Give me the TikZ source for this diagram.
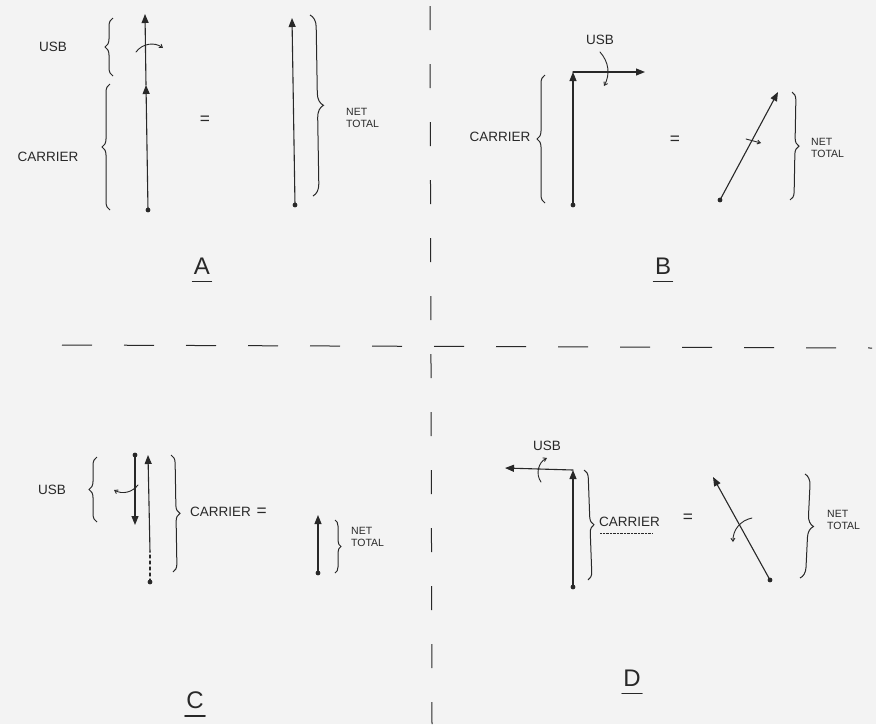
\documentclass[tikz,border=0pt]{standalone}
\usepackage{fontspec}
\setmainfont{Liberation Sans}
\usetikzlibrary{arrows.meta,calc,positioning,decorations.pathreplacing}
\definecolor{paper}{RGB}{243,243,243}
\definecolor{ink}{RGB}{40,40,40}
\tikzset{
  sketch/.style={draw=ink, line width=1.1pt, line cap=round},
  phasor/.style={sketch, -{Triangle[length=9pt,width=7pt]}},
  turn/.style={draw=ink, line width=0.9pt, line cap=round, -{Straight Barb[length=3pt,width=4pt]}},
  brc/.style={draw=ink, line width=1pt, decorate, decoration={brace, amplitude=8pt}},
  hand/.style={font=\fontsize{13.5}{14}\selectfont, text=ink, inner sep=1pt, align=left},
  handThin/.style={font=\fontsize{10.5}{11.5}\selectfont, text=ink, inner sep=1pt, align=left},
  eqsign/.style={font=\LARGE, text=ink},
  tag/.style={font=\fontsize{24}{24}\selectfont, text=ink},
  vdivider/.style={draw=ink, line width=1pt, dash pattern=on 24pt off 34pt},
  hdivider/.style={draw=ink, line width=1pt, dash pattern=on 30pt off 32pt},
}
\newcommand{\tipdot}[1]{\fill[ink] (#1) circle (2.4pt);}

\begin{document}
\begin{tikzpicture}[x=1pt, y=-1pt]

  \fill[paper] (0,0) rectangle (876,724);
  \useasboundingbox (0,0) rectangle (876,724);

  % dividers
  \coordinate (divN) at (430,6);
  \coordinate (divS) at (432,724);
  \coordinate (divW) at (62,345);
  \coordinate (divE) at (872,348);
  \draw[vdivider] (divN) -- (divS);
  \draw[hdivider] (divW) -- (divE);

  % A
  \coordinate (aO) at (148,210);
  \coordinate (aC) at (146,85);
  \coordinate (aU) at (145,14);
  \draw[phasor] (aO) -- (aC);
  \draw[phasor] (aC) -- (aU);
  \tipdot{aO}
  \coordinate (aR1) at (136,52);
  \coordinate (aR2) at (163,48);
  \draw[turn] (aR1) to[bend left=45] (aR2);
  \draw[brc] (113,76) -- (113,18);
  \node[hand] (usbA) at (53,47) {USB};
  \draw[brc] (110,210) -- (110,84);
  \node[hand] (carA) at (48,157) {CARRIER};
  \node[eqsign] (eqA) at (205,120) {=};
  \coordinate (aNo) at (295,205);
  \coordinate (aNt) at (292,18);
  \draw[phasor] (aNo) -- (aNt);
  \tipdot{aNo}
  \draw[brc, decoration={amplitude=12pt}] (310,15) -- (313,196);
  \node[handThin, anchor=west] (netA) at (345,118) {NET\\TOTAL};
  \node[tag] (tagA) at (202,266) {A};
  \draw[sketch] ($(tagA.south west)+(2,4)$) -- ($(tagA.south east)+(-2,4)$);

  % B
  \coordinate (bO) at (573,205);
  \coordinate (bC) at (573,72);
  \coordinate (bU) at (645,72);
  \draw[phasor] (bO) -- (bC);
  \draw[phasor] (bC) -- (bU);
  \tipdot{bO}
  \coordinate (bR1) at (600,52);
  \coordinate (bR2) at (604,86);
  \draw[turn] (bR1) to[bend left=35] (bR2);
  \node[hand, above=6pt of bR1] (usbB) {USB};
  \draw[brc] (545,203) -- (545,75);
  \node[hand] (carB) at (500,137) {CARRIER};
  \node[eqsign] (eqB) at (675,140) {=};
  \coordinate (bNo) at (720,200);
  \coordinate (bNt) at (778,92);
  \draw[phasor] (bNo) -- (bNt);
  \tipdot{bNo}
  \coordinate (bM1) at (746,139);
  \coordinate (bM2) at (761,143);
  \draw[turn] (bM1) -- (bM2);
  \draw[brc] (792,92) -- (790,200);
  \node[handThin, anchor=west] (netB) at (810,148) {NET\\TOTAL};
  \node[tag] (tagB) at (663,266) {B};
  \draw[sketch] ($(tagB.south west)+(2,4)$) -- ($(tagB.south east)+(-2,4)$);

  % C
  \coordinate (cO) at (150,582);
  \coordinate (cM) at (150,552);
  \coordinate (cC) at (148,455);
  \draw[sketch, dashed] (cO) -- (cM);
  \draw[phasor] (cM) -- (cC);
  \tipdot{cO}
  \coordinate (cUo) at (135,455);
  \coordinate (cUt) at (135,525);
  \draw[phasor] (cUo) -- (cUt);
  \tipdot{cUo}
  \coordinate (cR1) at (138,485);
  \coordinate (cR2) at (114,490);
  \draw[turn] (cR1) to[bend left=40] (cR2);
  \draw[brc] (97,522) -- (97,457);
  \node[hand] (usbC) at (52,490) {USB};
  \draw[brc] (171,455) -- (173,572);
  \node[hand, anchor=west] (carC) at (189,512) {CARRIER};
  \node[eqsign, right=1pt of carC] (eqC) {=};
  \coordinate (cNo) at (318,573);
  \coordinate (cNt) at (318,515);
  \draw[phasor] (cNo) -- (cNt);
  \tipdot{cNo}
  \draw[brc, decoration={amplitude=6pt}] (335,520) -- (335,573);
  \node[handThin, anchor=west] (netC) at (350,537) {NET\\TOTAL};
  \node[tag] (tagC) at (195,700) {C};
  \draw[sketch] ($(tagC.south west)+(2,4)$) -- ($(tagC.south east)+(-2,4)$);

  % D
  \coordinate (dO) at (573,587);
  \coordinate (dC) at (573,470);
  \coordinate (dU) at (505,468);
  \draw[phasor] (dO) -- (dC);
  \draw[phasor] (dC) -- (dU);
  \tipdot{dO}
  \coordinate (dR1) at (541,482);
  \coordinate (dR2) at (547,458);
  \draw[turn] (dR1) to[bend left=50] (dR2);
  \node[hand, above=6pt of dR2] (usbD) {USB};
  \draw[brc] (584,470) -- (588,580);
  \node[hand, anchor=west] (carD) at (598,522) {CARRIER};
  \draw[draw=ink, densely dotted] ($(carD.south west)+(2,5)$) -- ($(carD.south east)+(-8,5)$);
  \node[eqsign] (eqD) at (688,518) {=};
  \coordinate (dNo) at (770,580);
  \coordinate (dNt) at (713,477);
  \draw[phasor] (dNo) -- (dNt);
  \tipdot{dNo}
  \coordinate (dM1) at (752,518);
  \coordinate (dM2) at (733,542);
  \draw[turn] (dM1) to[bend right=40] (dM2);
  \draw[brc, decoration={amplitude=11pt}] (805,474) -- (800,578);
  \node[handThin, anchor=west] (netD) at (826,520) {NET\\TOTAL};
  \node[tag] (tagD) at (632,678) {D};
  \draw[sketch] ($(tagD.south west)+(2,4)$) -- ($(tagD.south east)+(-2,4)$);

\end{tikzpicture}
\end{document}
